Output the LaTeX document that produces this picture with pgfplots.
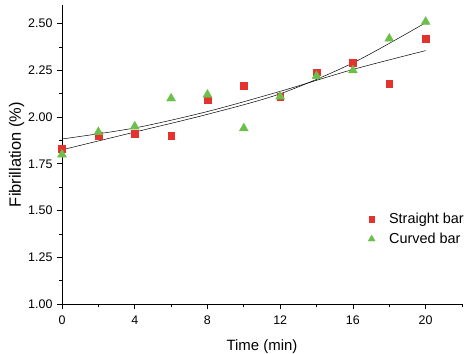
\documentclass[border=0pt]{standalone}
\usepackage{pgfplots}
\pgfplotsset{compat=1.18}
\usepackage{fontspec}
\setmainfont{Liberation Sans}
\definecolor{sqred}{HTML}{E4322F}
\definecolor{trgreen}{HTML}{6CBF4A}
\begin{document}
\begin{tikzpicture}
\path[use as bounding box] (-62bp,-50bp) rectangle (405bp,304bp);
\begin{axis}[
  at={(0,0)}, anchor=south west,
  scale only axis,
  width=400bp, height=299bp,
  xmin=0, xmax=22, ymin=1, ymax=2.6,
  axis lines=left,
  axis line style={-, line width=0.8pt},
  xtick={0,4,8,12,16,20},
  ytick={1,1.25,1.5,1.75,2,2.25,2.5},
  minor xtick={2,6,10,14,18,22},
  minor ytick={1.125,1.375,1.625,1.875,2.125,2.375},
  tick align=outside,
  major tick length=5bp,
  minor tick length=3bp,
  every tick/.style={black, line width=0.8pt},
  yticklabel style={/pgf/number format/fixed, /pgf/number format/fixed zerofill, /pgf/number format/precision=2, xshift=-1bp},
  xticklabel style={yshift=-3bp},
  /pgf/number format/assume math mode=true,
  tick label style={font=\fontsize{12.5}{14}\selectfont},
  xlabel={Time (min)},
  ylabel={Fibrillation (\%)},
  xlabel style={font=\fontsize{15}{17}\selectfont, yshift=-8bp},
  ylabel style={font=\fontsize{16.5}{18}\selectfont, yshift=-3bp},
  clip=false,
  legend style={at={(0.7575,0.318)}, anchor=north west, draw=none, fill=none,
    font=\fontsize{14.5}{16}\selectfont, row sep=4bp},
  legend cell align=left,
]
\addplot[only marks, mark=square*, mark size=3.4, color=sqred,
  legend image post style={mark size=2.8}] coordinates {
(0,1.83) (2,1.90) (4,1.91) (6,1.90) (8,2.09) (10,2.17) (12,2.11) (14,2.24) (16,2.29) (18,2.18) (20,2.42)};
\addlegendentry{\hspace{12bp}Straight bar}
\addplot[only marks, mark=triangle*, mark size=5.2, color=trgreen,
  legend image post style={mark size=4}] coordinates {
(0,1.80) (2,1.92) (4,1.95) (6,2.10) (8,2.12) (10,1.94) (12,2.11) (14,2.22) (16,2.25) (18,2.42) (20,2.51)};
\addlegendentry{\hspace{12bp}Curved bar}
\addplot[black, line width=0.5pt, smooth, forget plot] coordinates {
(0,1.883) (4,1.942) (8,2.030) (12,2.138) (16,2.255) (20,2.356)};
\addplot[black, line width=0.5pt, smooth, forget plot] coordinates {
(0,1.825) (4,1.920) (8,2.015) (12,2.125) (16,2.290) (20,2.505)};
\end{axis}
\end{tikzpicture}
\end{document}
